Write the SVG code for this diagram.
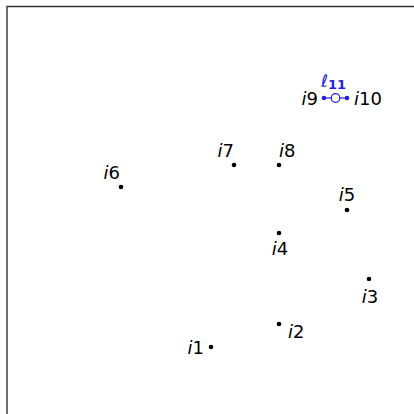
<svg xmlns="http://www.w3.org/2000/svg" width="414" height="414" viewBox="0 0 414 414">
<style>
.lbl{font-family:"DejaVu Sans","Liberation Sans",sans-serif;font-size:18px;fill:#000}
.it{font-style:italic}
.dot{fill:#000}
.blue{fill:#2020e0}
</style>
<rect width="414" height="414" fill="#fff"/>
<path d="M414 6.5H7V414" fill="none" stroke="#333" stroke-width="1.4"/>
<g id="connectors">
<line x1="324" y1="98" x2="347" y2="98" stroke="#2020e0" stroke-width="1.2"/>
<circle cx="335.5" cy="98" r="4.3" fill="#fff" stroke="#2020e0" stroke-width="1.2"/>
<text x="321" y="87" font-family="DejaVu Sans,sans-serif" font-size="17" fill="#2020e0" font-style="italic">ℓ<tspan font-weight="bold" font-style="normal" font-size="13" dy="2">11</tspan></text>
</g>
<g id="i1"><circle class="dot" cx="211" cy="347" r="2.3"/><text class="lbl" x="204" y="354" text-anchor="end"><tspan class="it">i</tspan>1</text></g>
<g id="i2"><circle class="dot" cx="279" cy="324" r="2.3"/><text class="lbl" x="288" y="338"><tspan class="it">i</tspan>2</text></g>
<g id="i3"><circle class="dot" cx="369" cy="279" r="2.3"/><text class="lbl" x="370" y="303" text-anchor="middle"><tspan class="it">i</tspan>3</text></g>
<g id="i4"><circle class="dot" cx="279" cy="233" r="2.3"/><text class="lbl" x="280" y="255" text-anchor="middle"><tspan class="it">i</tspan>4</text></g>
<g id="i5"><circle class="dot" cx="347" cy="210" r="2.3"/><text class="lbl" x="347" y="201" text-anchor="middle"><tspan class="it">i</tspan>5</text></g>
<g id="i6"><circle class="dot" cx="121" cy="187" r="2.3"/><text class="lbl" x="120" y="179" text-anchor="end"><tspan class="it">i</tspan>6</text></g>
<g id="i7"><circle class="dot" cx="234" cy="165" r="2.3"/><text class="lbl" x="234" y="157" text-anchor="end"><tspan class="it">i</tspan>7</text></g>
<g id="i8"><circle class="dot" cx="279" cy="165" r="2.3"/><text class="lbl" x="279" y="157"><tspan class="it">i</tspan>8</text></g>
<g id="i9"><circle class="blue" cx="324" cy="98" r="2.3"/><text class="lbl" x="318" y="105" text-anchor="end"><tspan class="it">i</tspan>9</text></g>
<g id="i10"><circle class="blue" cx="347" cy="98" r="2.3"/><text class="lbl" x="354" y="105"><tspan class="it">i</tspan>10</text></g>
</svg>
